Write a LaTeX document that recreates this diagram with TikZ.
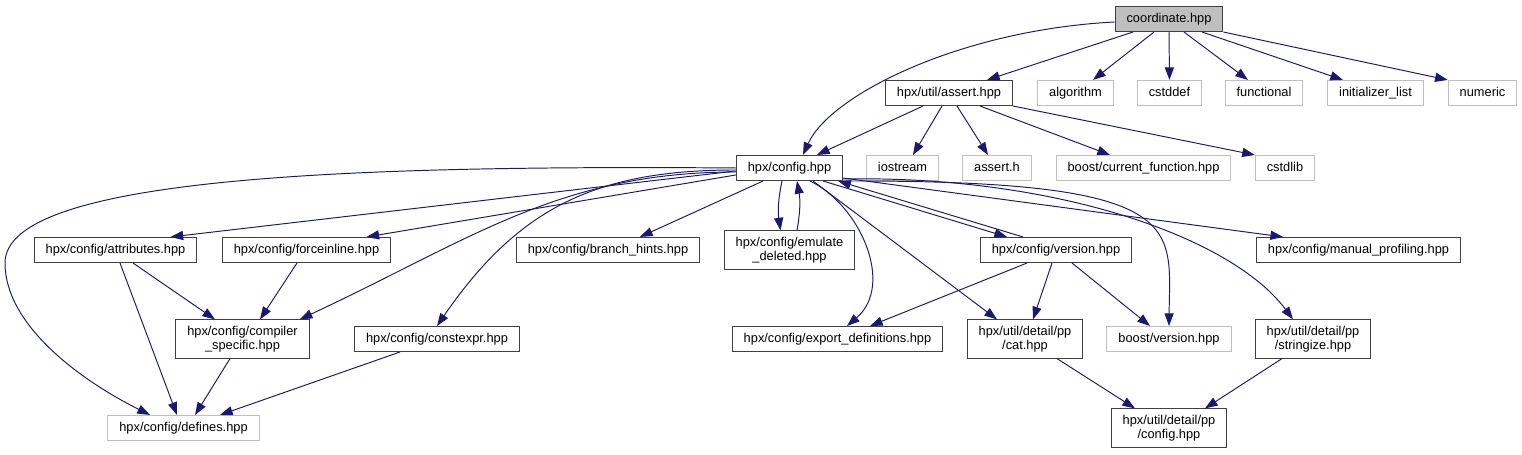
\documentclass[tikz,border=0pt]{standalone}
\usepackage{fontspec}
\setmainfont{Liberation Sans}
\usetikzlibrary{arrows.meta}
\definecolor{edgeblue}{HTML}{191970}
\definecolor{boxgray}{HTML}{BFBFBF}
\definecolor{boxline}{HTML}{404040}
\tikzset{
    filebox/.style={rectangle, draw=boxline, line width=0.6pt, minimum height=0.5cm,
                    inner xsep=6.5pt, inner ysep=3.4pt, align=center,
                    text height=5.4pt, text depth=1.5pt,
                    font=\fontsize{7.3}{8.1}\selectfont},
    twoline/.style={text height={}, text depth={}},
    rootfile/.style={filebox, fill=boxgray},
    extfile/.style={filebox, draw=boxgray},
    incl/.style={-{Triangle[length=7.2pt, width=5.2pt]}, edgeblue, line width=0.55pt},
}
\begin{document}
\begin{tikzpicture}[x=0.02cm, y=0.02cm]
    \useasboundingbox (0,0) rectangle (1522,455);

    \node[rootfile] (coord) at (1169,436) {coordinate.hpp};

    % direct includes
    \node[filebox] (assertHpp) at (949,362) {hpx/util/assert.hpp};
    \node[extfile] (algorithm) at (1075.5,362) {algorithm};
    \node[extfile] (cstddef) at (1169.5,362) {cstddef};
    \node[extfile] (functional) at (1264,362) {functional};
    \node[extfile] (initList) at (1375.5,362) {initializer\_list};
    \node[extfile] (numeric) at (1482.5,362) {numeric};

    \node[filebox] (config) at (789.5,287) {hpx/config.hpp};
    \node[extfile] (iostream) at (902.5,287) {iostream};
    \node[extfile] (assertH) at (997,287) {assert.h};
    \node[extfile] (curFunc) at (1143.5,287) {boost/current\_function.hpp};
    \node[extfile] (cstdlib) at (1285,287) {cstdlib};

    % what hpx/config.hpp pulls in
    \node[filebox] (attributes) at (115.5,205) {hpx/config/attributes.hpp};
    \node[filebox] (forceInline) at (306.5,205) {hpx/config/forceinline.hpp};
    \node[filebox] (branchHints) at (608,205) {hpx/config/branch\_hints.hpp};
    \node[filebox, twoline] (emulDeleted) at (789.5,205) {hpx/config/emulate\\\_deleted.hpp};
    \node[filebox] (version) at (1056,205) {hpx/config/version.hpp};
    \node[filebox] (manualProf) at (1358.5,205) {hpx/config/manual\_profiling.hpp};

    \node[filebox, twoline] (compSpecific) at (242.5,116) {hpx/config/compiler\\\_specific.hpp};
    \node[filebox] (constExpr) at (437,116) {hpx/config/constexpr.hpp};
    \node[filebox] (exportDefs) at (837.5,116) {hpx/config/export\_definitions.hpp};
    \node[filebox, twoline] (ppCat) at (1025,116) {hpx/util/detail/pp\\/cat.hpp};
    \node[extfile] (boostVersion) at (1169,116) {boost/version.hpp};
    \node[filebox, twoline] (ppStringize) at (1313,116) {hpx/util/detail/pp\\/stringize.hpp};

    \node[extfile] (defines) at (183.5,27) {hpx/config/defines.hpp};
    \node[filebox, twoline] (ppConfig) at (1169,27) {hpx/util/detail/pp\\/config.hpp};

    % coordinate.hpp
    \draw[incl] ([yshift=-0.06cm]coord.west) .. controls (960,425) and (830,360) .. ([xshift=0.27cm]config.north);
    \draw[incl] ([xshift=-0.72cm]coord.south) -- ([xshift=0.76cm]assertHpp.north);
    \draw[incl] ([xshift=-0.3cm]coord.south) -- ([xshift=0.35cm]algorithm.north);
    \draw[incl] (coord.south) -- (cstddef.north);
    \draw[incl] ([xshift=0.3cm]coord.south) -- ([xshift=-0.32cm]functional.north);
    \draw[incl] ([xshift=0.66cm]coord.south) -- ([xshift=-0.65cm]initList.north);
    \draw[incl] (coord.south east) -- (numeric.north west);

    % hpx/util/assert.hpp
    \draw[incl] ([xshift=-0.52cm]assertHpp.south) -- ([xshift=0.55cm]config.north);
    \draw[incl] ([xshift=-0.14cm]assertHpp.south) -- ([xshift=0.21cm]iostream.north);
    \draw[incl] ([xshift=0.16cm]assertHpp.south) -- ([xshift=-0.18cm]assertH.north);
    \draw[incl] ([xshift=0.62cm]assertHpp.south) -- ([xshift=-0.67cm]curFunc.north);
    \draw[incl] (assertHpp.south east) -- (cstdlib.north west);

    % hpx/config.hpp, left side
    \draw[incl] (config.west) .. controls (350,290) and (5,278) .. (5,192)
        .. controls (5,130) and (80,75) .. ([xshift=-0.67cm]defines.north);
    \draw[incl] ([yshift=-0.06cm]config.west) -- ([xshift=1.1cm]attributes.north);
    \draw[incl] ([yshift=-0.14cm]config.west) -- ([xshift=1.2cm]forceInline.north);
    \draw[incl] ([yshift=-0.08cm]config.west) .. controls (560,283) and (470,215) .. ([xshift=-0.2cm]compSpecific.north east);
    \draw[incl] ([yshift=-0.04cm]config.west) .. controls (600,285) and (520,250) .. (constExpr.north);
    \draw[incl] ([xshift=-0.53cm]config.south) -- ([xshift=0.64cm]branchHints.north);
    \draw[incl] ([xshift=-0.15cm]config.south) to[bend right=10] ([xshift=-0.18cm]emulDeleted.north);
    \draw[incl] ([xshift=0.15cm]emulDeleted.north) to[bend right=10] ([xshift=0.15cm]config.south);

    % hpx/config.hpp, right side
    \draw[incl] ([xshift=0.41cm]config.south) .. controls (860,250) and (895,170) .. ([xshift=0.19cm]exportDefs.north);
    \draw[incl] ([xshift=0.47cm]config.south) -- ([xshift=-0.56cm]ppCat.north);
    \draw[incl] ([xshift=-0.4cm]config.south east) -- ([xshift=-0.98cm]version.north);
    \draw[incl] ([xshift=-0.66cm]version.north) -- ([xshift=-0.1cm]config.south east);
    \draw[incl] (config.south east) .. controls (1190,275) and (1170,230) .. (boostVersion.north);
    \draw[incl] ([yshift=0.04cm]config.south east) .. controls (1050,280) and (1230,220) .. ([xshift=-0.4cm]ppStringize.north);
    \draw[incl] ([yshift=0.06cm]config.south east) -- ([xshift=-1.51cm]manualProf.north);

    % lower rows
    \draw[incl] ([xshift=0.35cm]attributes.south) -- ([xshift=-0.55cm]compSpecific.north);
    \draw[incl] ([xshift=0.09cm]attributes.south) -- ([xshift=-0.13cm]defines.north);
    \draw[incl] ([xshift=-0.19cm]forceInline.south) -- ([xshift=0.35cm]compSpecific.north);
    \draw[incl] ([xshift=-0.25cm]compSpecific.south) -- ([xshift=0.23cm]defines.north);
    \draw[incl] ([xshift=-0.74cm]constExpr.south) -- ([xshift=0.73cm]defines.north);
    \draw[incl] ([xshift=-0.58cm]version.south) -- ([xshift=0.65cm]exportDefs.north);
    \draw[incl] ([xshift=-0.08cm]version.south) -- ([xshift=0.16cm]ppCat.north);
    \draw[incl] ([xshift=0.32cm]version.south) -- ([xshift=-0.38cm]boostVersion.north);
    \draw[incl] ([xshift=0.64cm]ppCat.south) -- ([xshift=-0.68cm]ppConfig.north);
    \draw[incl] ([xshift=-0.62cm]ppStringize.south) -- ([xshift=0.72cm]ppConfig.north);

\end{tikzpicture}
\end{document}
